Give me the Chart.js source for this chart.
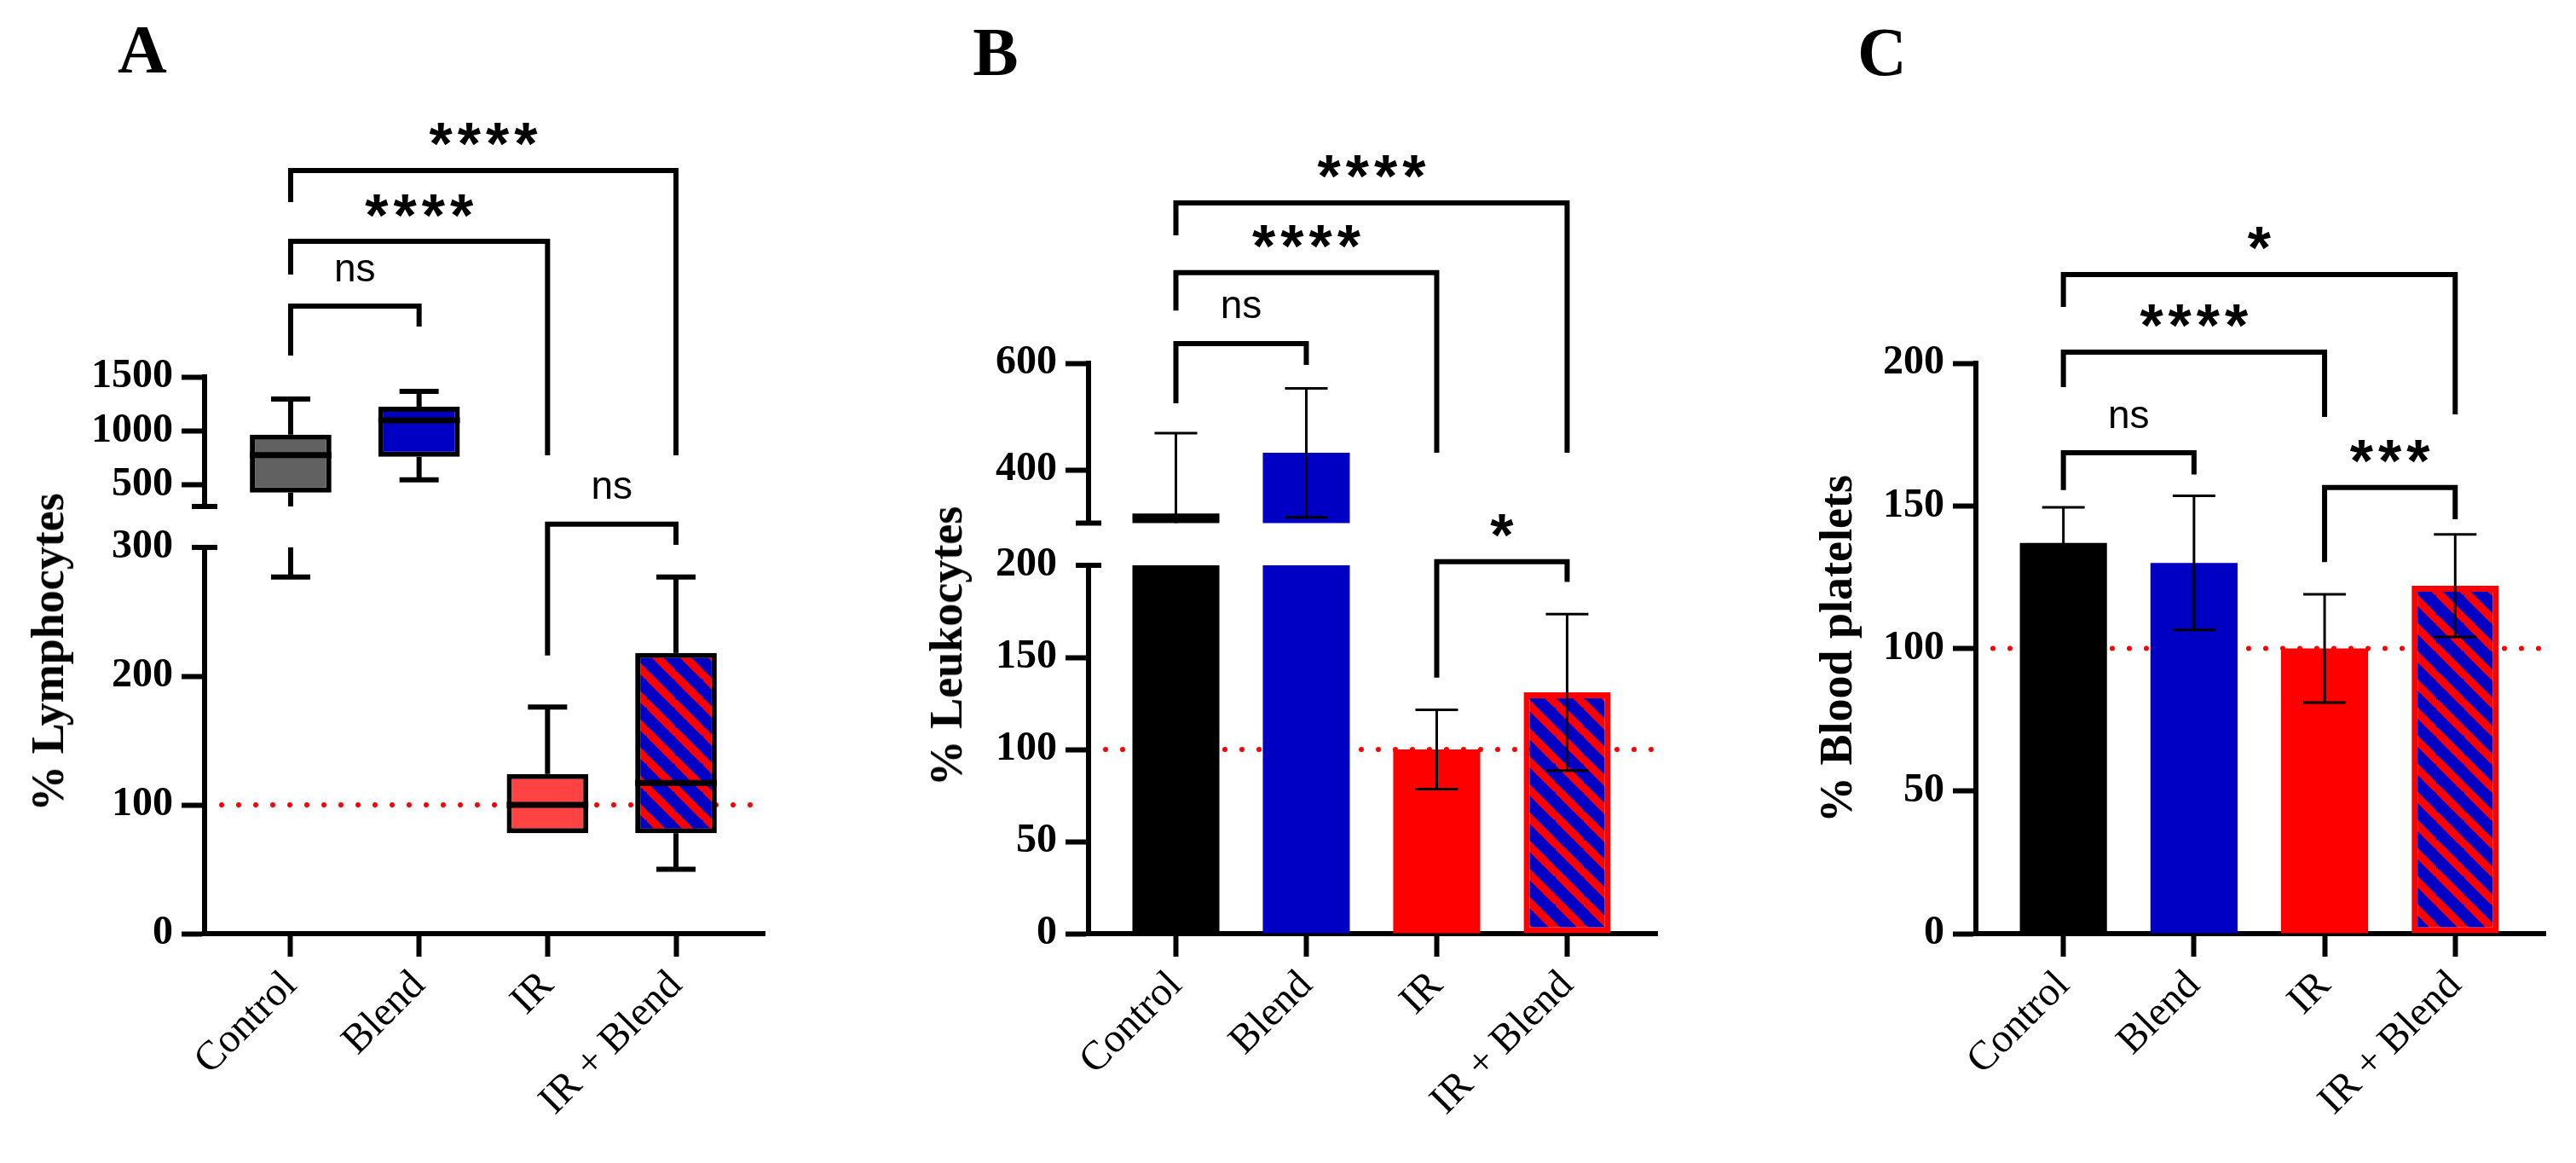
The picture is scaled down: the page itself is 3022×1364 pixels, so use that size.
<!DOCTYPE html>
<html>
<head>
<meta charset="utf-8">
<script src="https://cdn.jsdelivr.net/npm/chart.js@4.4.1/dist/chart.umd.min.js"></script>
<style>
  html, body { margin: 0; padding: 0; background: #fff; }
  #fig { position: relative; width: 3022px; height: 1364px; overflow: hidden; }
  #fig canvas { position: absolute; top: 0; }
  .letter { position: absolute; font: bold 80px 'Liberation Serif', serif; line-height: 1; transform: translate(-50%, -50%); }
  .ytitle { position: absolute; font: bold 54px 'Liberation Serif', serif; line-height: 1; white-space: nowrap;
            transform: translate(-50%, -50%) rotate(-90deg); }
</style>
</head>
<body>
<div id="fig">
  <canvas id="aHigh" width="1000" height="1364" style="left:0"></canvas>
  <canvas id="aLow" width="1000" height="1364" style="left:0"></canvas>
  <canvas id="bHigh" width="1000" height="1364" style="left:1000px"></canvas>
  <canvas id="bLow" width="1000" height="1364" style="left:1000px"></canvas>
  <canvas id="cAll" width="1022" height="1364" style="left:2000px"></canvas>

  <div class="letter" style="left:167px; top:58px">A</div>
  <div class="letter" style="left:1168px; top:61px">B</div>
  <div class="letter" style="left:2208px; top:61px">C</div>

  <div class="ytitle" style="left:56px; top:765px">% Lymphocytes</div>
  <div class="ytitle" style="left:1110px; top:758px">% Leukocytes</div>
  <div class="ytitle" style="left:2154px; top:761px">% Blood platelets</div>
</div>

<script>
const groups = ['Control', 'Blend', 'IR', 'IR + Blend'];

// A: box plots of lymphocytes
const lymphMin = [277, 547, 78, 50];
const lymphQ1 = [429, 760, 78, 78];
const lymphMed = [776, 1098, 100, 117];
const lymphQ3 = [965, 1224, 124, 218];
const lymphMax = [1295, 1366, 176, 277];
const lymphTicksLow = [0, 100, 200, 300];
const lymphTicksHigh = [500, 1000, 1500];

// B: leukocytes mean +- SD
const leukoMean = [318, 432, 100, 131];
const leukoSD = [151, 121, 21.5, 42.5];
const leukoTicksLow = [0, 50, 100, 150, 200];
const leukoTicksHigh = [400, 600];

// C: platelets mean +- SD
const plateMean = [137, 130, 100, 122];
const plateSD = [12.5, 23.5, 19, 18];
const plateTicks = [0, 50, 100, 150, 200];

const refValue = 100;

// brackets: [from, to, top, left leg end, right leg end, label]
const bracketsAHigh = [[0, 1, 2155, 1697, 1966, 'ns'], [0, 2, 2755, 2447, 774, '****'], [0, 3, 3411, 3118, 774, '****']];
const bracketsALow = [[2, 3, 318, 216, 302, 'ns']];
const bracketsBHigh = [[0, 1, 637, 525, 597, 'ns'], [0, 2, 770, 699, 432, '****'], [0, 3, 901, 840, 432, '****']];
const bracketsBLow = [[2, 3, 202, 139, 191, '*']];
const bracketsC = [[0, 1, 168.6, 155.5, 161, 'ns'], [0, 2, 203.9, 191.6, 181.2, '****'],
                   [0, 3, 231.1, 219.7, 182.1, '*'], [2, 3, 156.4, 130.3, 145.3, '***']];

Chart.defaults.font.family = "'Liberation Serif', 'Times New Roman', serif";
Chart.defaults.color = '#000';

const H = 1364, YW = 170, XH = 260;
const RED = '#ff0000', BLUE = '#0000c4', GREY = '#616161', SOFTRED = '#ff4242';

function stripes(canvas) {
  const P = 33;
  const t = document.createElement('canvas');
  t.width = t.height = P;
  const c = t.getContext('2d');
  c.fillStyle = BLUE;
  c.fillRect(0, 0, P, P);
  c.strokeStyle = RED;
  c.lineWidth = 9.5;
  for (const k of [-P, 0, P]) {
    c.beginPath();
    c.moveTo(-2, k - 2);
    c.lineTo(P + 2, P + k + 2);
    c.stroke();
  }
  return canvas.getContext('2d').createPattern(t, 'repeat');
}

function seg(ctx, x1, y1, x2, y2) {
  ctx.beginPath();
  ctx.moveTo(x1, y1);
  ctx.lineTo(x2, y2);
  ctx.stroke();
}

function overlay(o) {
  return {
    id: 'overlay',
    beforeDatasetsDraw(chart) {
      if (!o.refLine) return;
      const {ctx, chartArea: a, scales: {y}} = chart;
      const py = y.getPixelForValue(refValue);
      ctx.save();
      ctx.strokeStyle = RED;
      ctx.lineWidth = 6;
      ctx.lineCap = 'round';
      ctx.setLineDash([0, 20]);
      seg(ctx, a.left + 20, py, a.right, py);
      ctx.restore();
    },
    afterDatasetsDraw(chart) {
      const {ctx, chartArea: a, scales: {y}} = chart;
      const els = chart.getDatasetMeta(0).data;
      ctx.save();
      ctx.beginPath();
      ctx.rect(a.left, a.top, a.right - a.left, a.bottom - a.top);
      ctx.clip();
      ctx.strokeStyle = '#000';
      ctx.lineCap = 'butt';
      els.forEach((el, i) => {
        const x = el.x, w = el.width;
        if (o.box) {
          const b = o.box;
          const whisker = (from, to) => {
            if (from === to) return;
            const p1 = y.getPixelForValue(from), p2 = y.getPixelForValue(to);
            seg(ctx, x, p1, x, p2);
            seg(ctx, x - 23, p2, x + 23, p2);
          };
          ctx.lineWidth = 6;
          whisker(b.q3[i], b.max[i]);
          whisker(b.q1[i], b.min[i]);
          ctx.lineWidth = 7;
          seg(ctx, x - w / 2, y.getPixelForValue(b.med[i]), x + w / 2, y.getPixelForValue(b.med[i]));
        }
        if (o.err) {
          const hi = y.getPixelForValue(o.err.mean[i] + o.err.sd[i]);
          const lo = y.getPixelForValue(o.err.mean[i] - o.err.sd[i]);
          ctx.lineWidth = 3;
          seg(ctx, x, hi, x, lo);
          seg(ctx, x - 25, hi, x + 25, hi);
          seg(ctx, x - 25, lo, x + 25, lo);
        }
      });
      ctx.restore();
    },
    afterDraw(chart) {
      const {ctx, chartArea: a, scales: {x, y}} = chart;
      ctx.save();
      ctx.strokeStyle = '#000';
      ctx.fillStyle = '#000';
      ctx.lineWidth = 6;
      ctx.lineCap = 'butt';
      ctx.lineJoin = 'miter';
      // axis break caps
      if (o.capTop) seg(ctx, a.left - 15, y.getPixelForValue(y.max), a.left + 15, y.getPixelForValue(y.max));
      if (o.capBottom) seg(ctx, a.left - 15, y.getPixelForValue(y.min), a.left + 15, y.getPixelForValue(y.min));
      // significance brackets
      (o.brackets || []).forEach(([from, to, top, endL, endR, label]) => {
        const x1 = x.getPixelForValue(from), x2 = x.getPixelForValue(to);
        const yt = y.getPixelForValue(top);
        ctx.beginPath();
        ctx.moveTo(x1, y.getPixelForValue(endL));
        ctx.lineTo(x1, yt);
        ctx.lineTo(x2, yt);
        ctx.lineTo(x2, y.getPixelForValue(endR));
        ctx.stroke();
        const stars = label !== 'ns';
        ctx.font = stars ? "bold 70px 'Liberation Sans', Arial, sans-serif"
                         : "46px 'Liberation Sans', Arial, sans-serif";
        ctx.letterSpacing = stars ? '6px' : '0px';
        ctx.textAlign = 'center';
        ctx.textBaseline = 'alphabetic';
        const m = ctx.measureText(label);
        const cy = yt - 42;
        const cx = (x1 + x2) / 2 + (stars ? 3 : 0);
        ctx.fillText(label, cx, cy + (m.actualBoundingBoxAscent - m.actualBoundingBoxDescent) / 2);
      });
      ctx.restore();
    }
  };
}

function panelChart(id, g, o) {
  const el = document.getElementById(id);
  const showX = !!o.showX;
  const ds = o.dataset(el);
  return new Chart(el, {
    type: 'bar',
    data: { datasets: [ds] },
    options: {
      responsive: false,
      animation: false,
      layout: {
        padding: { left: g.axisX - YW, right: el.width - g.right, top: g.top, bottom: H - g.bottom - (showX ? XH : 0) }
      },
      plugins: { legend: { display: false }, tooltip: { enabled: false } },
      scales: {
        x: {
          type: 'linear', min: -0.67, max: 3.69, display: showX, z: 1, offset: false,
          afterBuildTicks: s => { s.ticks = groups.map((_, i) => ({ value: i })); },
          afterFit: s => { if (showX) s.height = XH; s.paddingLeft = 0; s.paddingRight = 0; },
          border: { width: 6, color: '#000' },
          grid: { offset: false, drawOnChartArea: false, tickLength: 27, tickWidth: 6, tickColor: '#000' },
          ticks: { font: { size: 48 }, color: '#000', padding: 6, minRotation: 45, maxRotation: 45,
                   autoSkip: false, callback: v => groups[v] }
        },
        y: {
          type: 'linear', min: o.yMin, max: o.yMax, z: 1,
          afterBuildTicks: s => { s.ticks = o.yTicks.map(v => ({ value: v })); },
          afterFit: s => { s.width = YW; },
          border: { width: 6, color: '#000' },
          grid: {
            drawOnChartArea: false, tickLength: 27, tickWidth: 6,
            tickColor: c => (o.capTop && c.tick && c.tick.value === o.yMax) ? 'rgba(0,0,0,0)' : '#000'
          },
          ticks: { font: { size: 48, weight: 'bold' }, color: '#000', padding: 10, callback: v => String(v) }
        }
      }
    },
    plugins: [overlay(o)]
  });
}

const boxStats = { min: lymphMin, q1: lymphQ1, med: lymphMed, q3: lymphQ3, max: lymphMax };
const boxData = el => ({
  data: groups.map((_, i) => ({ x: i, y: [lymphQ1[i], lymphQ3[i]] })),
  backgroundColor: [GREY, BLUE, SOFTRED, stripes(el)],
  borderColor: '#000', borderWidth: 6, borderSkipped: false,
  categoryPercentage: 0.635, barPercentage: 1, clip: 0
});
const barData = (mean) => el => ({
  data: groups.map((_, i) => ({ x: i, y: mean[i] })),
  backgroundColor: ['#000000', BLUE, RED, stripes(el)],
  borderColor: RED, borderWidth: [0, 0, 0, 7], borderSkipped: false,
  categoryPercentage: 0.667, barPercentage: 1, clip: 0
});

// Panel A
panelChart('aHigh', { axisX: 240, right: 897, top: 442, bottom: 594 },
  { dataset: boxData, box: boxStats, yMin: 300, yMax: 1500, yTicks: lymphTicksHigh,
    capBottom: true, brackets: bracketsAHigh });
panelChart('aLow', { axisX: 240, right: 897, top: 642, bottom: 1095 },
  { dataset: boxData, box: boxStats, yMin: 0, yMax: 300, yTicks: lymphTicksLow, showX: true,
    capTop: true, refLine: true, brackets: bracketsALow });

// Panel B
panelChart('bHigh', { axisX: 277, right: 944, top: 426, bottom: 613.5 },
  { dataset: barData(leukoMean), err: { mean: leukoMean, sd: leukoSD }, yMin: 300, yMax: 600,
    yTicks: leukoTicksHigh, capBottom: true, brackets: bracketsBHigh });
panelChart('bLow', { axisX: 277, right: 944, top: 663, bottom: 1095 },
  { dataset: barData(leukoMean), err: { mean: leukoMean, sd: leukoSD }, yMin: 0, yMax: 200,
    yTicks: leukoTicksLow, showX: true, capTop: true, refLine: true, brackets: bracketsBLow });

// Panel C
panelChart('cAll', { axisX: 318, right: 986, top: 426, bottom: 1095 },
  { dataset: barData(plateMean), err: { mean: plateMean, sd: plateSD }, yMin: 0, yMax: 200,
    yTicks: plateTicks, showX: true, refLine: true, brackets: bracketsC });
</script>
</body>
</html>
